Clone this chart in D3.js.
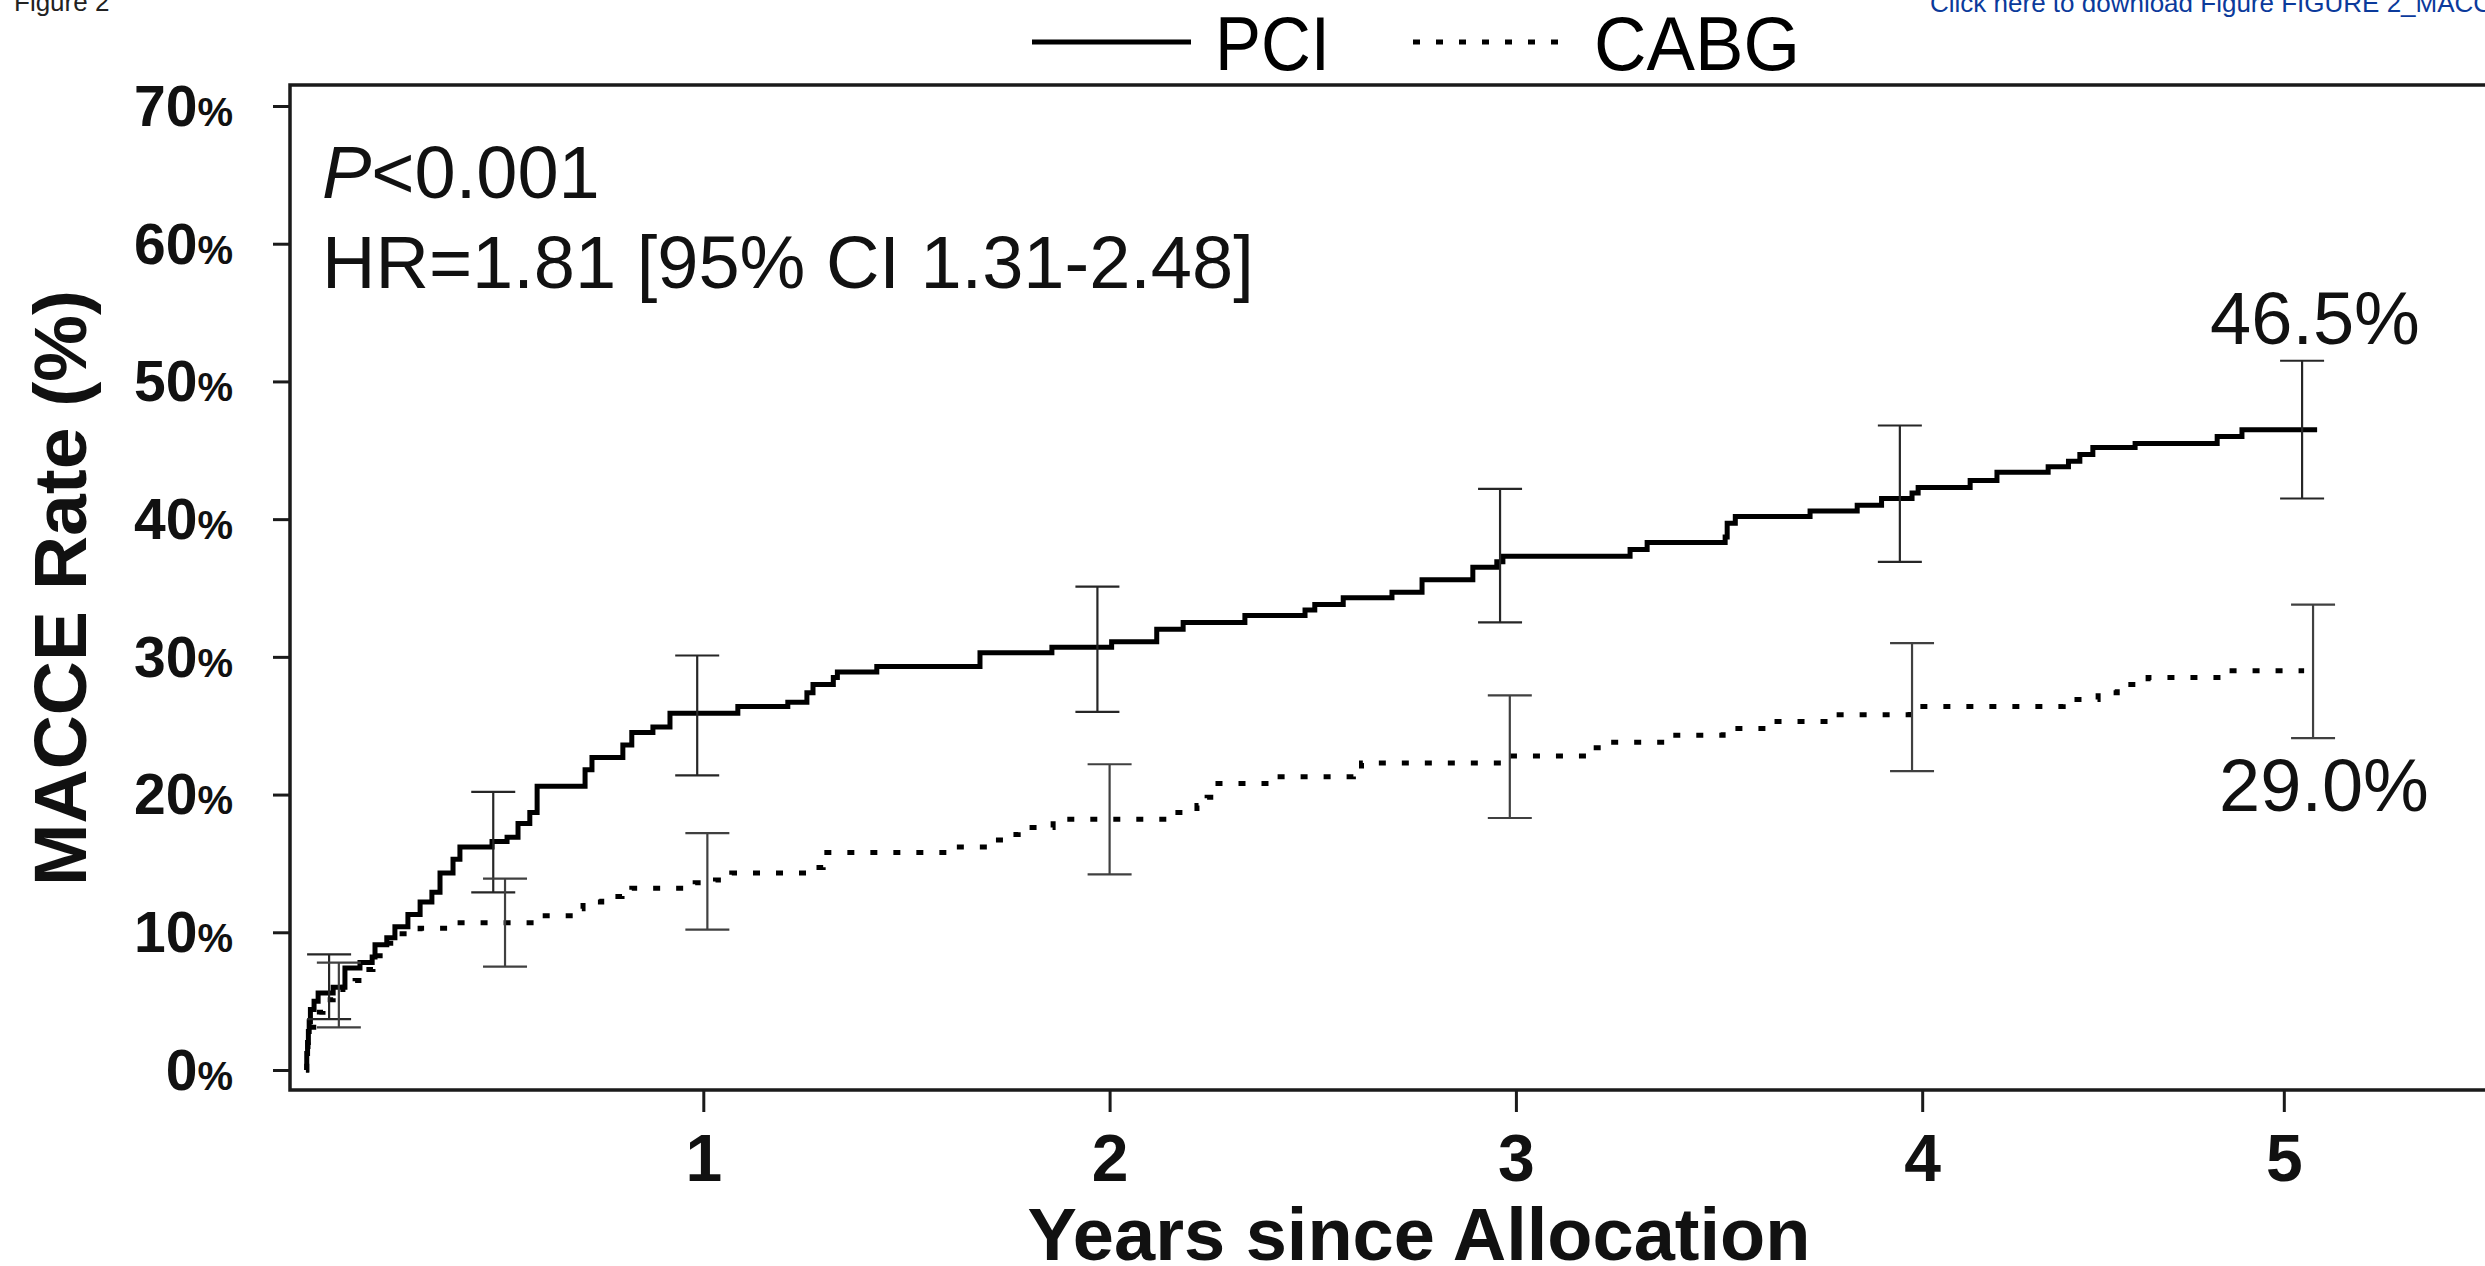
<!DOCTYPE html>
<html>
<head>
<meta charset="utf-8">
<script src="https://cdn.jsdelivr.net/npm/d3@7"></script>
<style>
  body { margin: 0; background: #fff; overflow: hidden; }
  svg { display: block; font-family: "Liberation Sans", Arial, sans-serif; }
</style>
</head>
<body>
<div class="canvas"></div>
<script>
// DATA (years since allocation, cumulative MACCE %)
const pciTime = [0.022, 0.024, 0.026, 0.028, 0.030, 0.033, 0.042, 0.052, 0.089, 0.118, 0.155, 0.185, 0.192, 0.221, 0.241, 0.273, 0.303, 0.332, 0.352, 0.384, 0.401, 0.480, 0.517, 0.544, 0.573, 0.591, 0.709, 0.726, 0.802, 0.824, 0.876, 0.918, 1.085, 1.208, 1.255, 1.270, 1.320, 1.330, 1.427, 1.681, 1.858, 2.005, 2.116, 2.181, 2.333, 2.481, 2.505, 2.575, 2.695, 2.769, 2.894, 2.953, 2.968, 3.281, 3.323, 3.515, 3.520, 3.540, 3.724, 3.840, 3.900, 3.975, 3.990, 4.118, 4.184, 4.310, 4.360, 4.388, 4.420, 4.524, 4.726, 4.787, 4.972];
const pciRate = [0, 1.2, 2.0, 2.8, 3.5, 4.4, 5.0, 5.6, 6.0, 7.4, 7.8, 8.2, 9.1, 9.6, 10.4, 11.3, 12.2, 12.9, 14.3, 15.3, 16.2, 16.6, 16.9, 17.9, 18.7, 20.6, 21.8, 22.7, 23.6, 24.5, 24.9, 25.9, 26.4, 26.7, 27.4, 28.0, 28.5, 28.9, 29.3, 30.3, 30.7, 31.1, 32.0, 32.5, 33.0, 33.4, 33.8, 34.3, 34.7, 35.6, 36.5, 36.9, 37.3, 37.8, 38.3, 38.7, 39.7, 40.2, 40.6, 41.0, 41.5, 41.9, 42.3, 42.8, 43.4, 43.8, 44.2, 44.7, 45.2, 45.5, 46.0, 46.5, 46.5];

const cabgTime = [0.022, 0.024, 0.027, 0.030, 0.055, 0.064, 0.089, 0.113, 0.143, 0.160, 0.187, 0.212, 0.246, 0.303, 0.380, 0.585, 0.680, 0.704, 0.750, 0.800, 0.824, 0.980, 1.030, 1.070, 1.270, 1.295, 1.607, 1.700, 1.742, 1.775, 1.861, 2.140, 2.215, 2.240, 2.260, 2.395, 2.600, 2.620, 2.985, 3.190, 3.224, 3.380, 3.510, 3.618, 3.775, 3.970, 4.347, 4.433, 4.480, 4.556, 4.740, 4.940];
const cabgRate = [0, 1.0, 2.0, 3.1, 4.2, 5.1, 5.3, 6.0, 6.5, 7.3, 8.3, 9.2, 9.9, 10.3, 10.7, 11.2, 11.7, 12.2, 12.6, 12.7, 13.2, 13.6, 13.8, 14.3, 14.7, 15.8, 16.2, 16.7, 17.1, 17.6, 18.2, 18.7, 19.2, 19.8, 20.8, 21.3, 21.8, 22.3, 22.8, 23.4, 23.8, 24.3, 24.8, 25.3, 25.8, 26.4, 26.9, 27.4, 28.0, 28.5, 29.0, 29.0];

// 95% CI bars
const pciBarTime = [0.079, 0.483, 0.985, 1.970, 2.961, 3.945, 4.935];
const pciLow = [3.7, 12.9, 21.4, 26.0, 32.5, 36.9, 41.5];
const pciHigh = [8.4, 20.2, 30.1, 35.1, 42.2, 46.8, 51.5];
const cabgBarTime = [0.103, 0.512, 1.010, 2.000, 2.985, 3.975, 4.962];
const cabgLow = [3.1, 7.5, 10.2, 14.2, 18.3, 21.7, 24.1];
const cabgHigh = [7.8, 13.9, 17.2, 22.2, 27.2, 31.0, 33.8];

const yTicks = [0, 10, 20, 30, 40, 50, 60, 70];
const xTickValues = [1, 2, 3, 4, 4.89];
const xTickLabels = ["1", "2", "3", "4", "5"];

const finalLabels = ["46.5%", "29.0%"];

// Dimensions
const W = 2485, H = 1266;
const frame = {left: 290, top: 85, bottom: 1090};

const svg = d3.select(".canvas")
  .append("svg")
  .attr("width", W)
  .attr("height", H);

// SCALES
const xScale = d3.scaleLinear().domain([0, 5]).range([297, 2328.5]);
const yScale = d3.scaleLinear().domain([0, 70]).range([1070, 106]);

// header texts
svg.append("text").attr("x", 14).attr("y", 11)
  .attr("font-size", 26).attr("fill", "#222").text("Figure 2");
svg.append("text").attr("x", 1930).attr("y", 12)
  .attr("font-size", 26).attr("fill", "#0b3a9b")
  .text("Click here to download Figure FIGURE 2_MACCE");

// FRAME
svg.append("path")
  .attr("d", `M${W + 10},${frame.top}H${frame.left}V${frame.bottom}H${W + 10}`)
  .attr("fill", "none").attr("stroke", "#1a1a1a").attr("stroke-width", 3.5);

// AXES
const yAxis = svg.append("g")
  .attr("transform", `translate(${frame.left},0)`)
  .call(d3.axisLeft(yScale).tickValues(yTicks).tickSize(17).tickPadding(40).tickFormat(d => d));
yAxis.select(".domain").remove();
yAxis.selectAll(".tick line").attr("stroke", "#1a1a1a").attr("stroke-width", 3);
yAxis.selectAll(".tick text")
  .attr("font-family", "'Liberation Sans', Arial, sans-serif")
  .attr("font-weight", "bold").attr("font-size", 57).attr("fill", "#111")
  .attr("dy", "0.34em")
  .append("tspan").attr("font-size", 40).text("%");

const xAxis = svg.append("g")
  .attr("transform", `translate(0,${frame.bottom})`)
  .call(d3.axisBottom(xScale).tickValues(xTickValues).tickSize(22)
    .tickFormat((d, i) => xTickLabels[i]));
xAxis.select(".domain").remove();
xAxis.selectAll(".tick line").attr("stroke", "#1a1a1a").attr("stroke-width", 3);
xAxis.selectAll(".tick text")
  .attr("font-family", "'Liberation Sans', Arial, sans-serif")
  .attr("font-weight", "bold").attr("font-size", 66).attr("fill", "#111")
  .attr("y", 91).attr("dy", 0);

// axis titles
svg.append("text")
  .attr("transform", "translate(86,588) rotate(-90)")
  .attr("text-anchor", "middle").attr("font-weight", "bold").attr("font-size", 75)
  .attr("fill", "#111").text("MACCE Rate (%)");
svg.append("text")
  .attr("x", 1419).attr("y", 1260)
  .attr("text-anchor", "middle").attr("font-weight", "bold").attr("font-size", 74)
  .attr("fill", "#111").text("Years since Allocation");

// LEGEND
svg.append("line").attr("x1", 1032).attr("x2", 1191).attr("y1", 42).attr("y2", 42)
  .attr("stroke", "#000").attr("stroke-width", 5);
svg.append("text").attr("x", 1215).attr("y", 70).attr("font-size", 76)
  .attr("textLength", 115).attr("lengthAdjust", "spacingAndGlyphs").text("PCI");
svg.append("line").attr("x1", 1413).attr("x2", 1560).attr("y1", 42).attr("y2", 42)
  .attr("stroke", "#000").attr("stroke-width", 5).attr("stroke-dasharray", "7,16");
svg.append("text").attr("x", 1594).attr("y", 70).attr("font-size", 76)
  .attr("textLength", 206).attr("lengthAdjust", "spacingAndGlyphs").text("CABG");

// statistics
const stat = svg.append("text").attr("x", 322).attr("y", 198).attr("font-size", 74).attr("fill", "#111");
stat.append("tspan").attr("font-style", "italic").text("P");
stat.append("tspan").text("<0.001");
svg.append("text").attr("x", 322).attr("y", 288).attr("font-size", 74).attr("fill", "#111")
  .text("HR=1.81 [95% CI 1.31-2.48]");

// CURVES
const line = d3.line()
  .x(d => xScale(d[0]))
  .y(d => yScale(d[1]))
  .curve(d3.curveStepAfter);

const pciData = pciTime.map((t, i) => [t, pciRate[i]]);
const cabgData = cabgTime.map((t, i) => [t, cabgRate[i]]);

svg.append("path").datum(cabgData)
  .attr("d", line).attr("fill", "none").attr("stroke", "#000")
  .attr("stroke-width", 5).attr("stroke-dasharray", "7,16");

svg.append("path").datum(pciData)
  .attr("d", line).attr("fill", "none").attr("stroke", "#000")
  .attr("stroke-width", 5).attr("stroke-linejoin", "miter");

// ERROR BARS
const drawBars = (times, lo, hi, color) => {
  const g = svg.append("g").attr("stroke", color).attr("stroke-width", 2.2).attr("fill", "none");
  times.forEach((t, i) => {
    const x = xScale(t);
    g.append("line").attr("x1", x).attr("x2", x).attr("y1", yScale(lo[i])).attr("y2", yScale(hi[i]));
    g.append("line").attr("x1", x - 22).attr("x2", x + 22).attr("y1", yScale(lo[i])).attr("y2", yScale(lo[i]));
    g.append("line").attr("x1", x - 22).attr("x2", x + 22).attr("y1", yScale(hi[i])).attr("y2", yScale(hi[i]));
  });
};
drawBars(pciBarTime, pciLow, pciHigh, "#262626");
drawBars(cabgBarTime, cabgLow, cabgHigh, "#404040");

// final rates
svg.append("text").attr("x", 2315).attr("y", 344).attr("text-anchor", "middle")
  .attr("font-size", 74).attr("fill", "#111").text(finalLabels[0]);
svg.append("text").attr("x", 2324).attr("y", 811).attr("text-anchor", "middle")
  .attr("font-size", 74).attr("fill", "#111").text(finalLabels[1]);
</script>
</body>
</html>
